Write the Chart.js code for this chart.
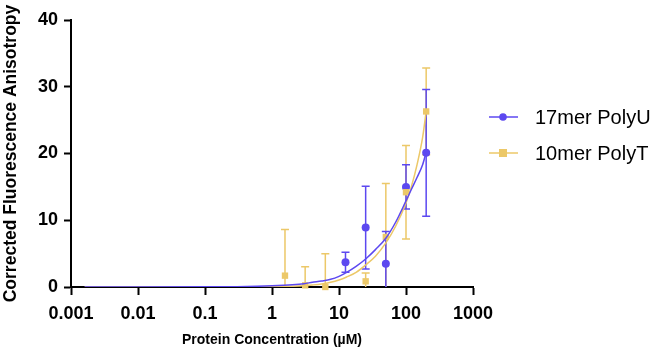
<!DOCTYPE html>
<html>
<head>
<meta charset="utf-8">
<script src="https://cdn.jsdelivr.net/npm/chart.js@4"></script>
<style>
  html, body { margin: 0; padding: 0; background: #fff; }
</style>
</head>
<body>
<canvas id="anisoChart" width="660" height="351"></canvas>
<script>
// measured points (mean +/- SD)
var concentrations = [1.5625, 3.125, 6.25, 12.5, 25, 50, 100, 200];
var polyUMean = [null, null, null, 3.7, 8.9, 3.5, 15.0, 20.1];
var polyUErr  = [null, null, null, 1.5, 6.2, 4.8, 3.3, 9.5];
var polyTMean = [1.7, 0.25, 0.0, null, 0.85, 7.5, 14.2, 26.3];
var polyTErr  = [6.9, 2.8, 5.0, null, 1.25, 8.0, 7.0, 6.5];

// fitted curves
var fitConc = [0.0016, 0.01, 0.1, 0.3, 0.6, 1, 1.5, 2, 3, 4, 5.5, 7.5, 10, 13, 18, 25, 35, 50, 70, 100, 120, 146, 177, 200];
var polyUFit = [0, 0, 0.02, 0.05, 0.1, 0.17, 0.25, 0.33, 0.5, 0.7, 0.9, 1.15, 1.6, 2.2, 3.1, 4.2, 5.6, 7.3, 9.7, 12.9, 14.6, 16.4, 18.3, 20.2];
var polyTFit = [0, 0, 0, 0.01, 0.02, 0.05, 0.08, 0.12, 0.2, 0.3, 0.45, 0.7, 1.05, 1.5, 2.2, 3.3, 4.6, 6.6, 9.1, 12.6, 15.0, 18.3, 22.4, 26.3];

var xTicks = [0.001, 0.01, 0.1, 1, 10, 100, 1000];
var xTickLabels = ['0.001', '0.01', '0.1', '1', '10', '100', '1000'];
var seriesNames = ['17mer PolyU', '10mer PolyT'];

var blue = 'rgb(92, 72, 240)';
var gold = 'rgb(236, 200, 104)';

function pairs(xs, ys) {
  var out = [];
  for (var i = 0; i < xs.length; i++) {
    if (ys[i] !== null) out.push({ x: xs[i], y: ys[i] });
  }
  return out;
}
function errs(ys, es) {
  return es.filter(function (e, i) { return ys[i] !== null; });
}

Chart.defaults.font.family = "'Liberation Sans', Arial, sans-serif";
Chart.defaults.color = '#000';

var errorBars = {
  id: 'errorBars',
  beforeDatasetsDraw: function (chart) {
    var ctx = chart.ctx, area = chart.chartArea;
    var x = chart.scales.x, y = chart.scales.y;
    ctx.save();
    ctx.beginPath();
    ctx.rect(area.left, area.top - 10, area.right - area.left, area.bottom - area.top + 10);
    ctx.clip();
    chart.data.datasets.forEach(function (ds) {
      if (!ds.errors) return;
      ctx.strokeStyle = ds.borderColor;
      ctx.lineWidth = 1.5;
      ds.data.forEach(function (p, j) {
        var e = ds.errors[j];
        var px = x.getPixelForValue(p.x);
        var top = y.getPixelForValue(p.y + e);
        var bot = y.getPixelForValue(p.y - e);
        ctx.beginPath();
        ctx.moveTo(px, top); ctx.lineTo(px, bot);
        ctx.moveTo(px - 4, top); ctx.lineTo(px + 4, top);
        ctx.moveTo(px - 4, bot); ctx.lineTo(px + 4, bot);
        ctx.stroke();
      });
    });
    ctx.restore();
  }
};

var sideLegend = {
  id: 'sideLegend',
  afterDraw: function (chart) {
    var ctx = chart.ctx, right = chart.chartArea.right;
    var rows = [
      { name: seriesNames[0], color: blue, shape: 'circle', y: 117 },
      { name: seriesNames[1], color: gold, shape: 'rect', y: 153 }
    ];
    ctx.save();
    rows.forEach(function (r) {
      ctx.strokeStyle = r.color;
      ctx.fillStyle = r.color;
      ctx.lineWidth = 1.5;
      ctx.beginPath();
      ctx.moveTo(right + 16, r.y);
      ctx.lineTo(right + 45, r.y);
      ctx.stroke();
      if (r.shape === 'circle') {
        ctx.beginPath();
        ctx.arc(right + 30, r.y, 3.8, 0, Math.PI * 2);
        ctx.fill();
      } else {
        ctx.fillRect(right + 26, r.y - 4, 8, 8);
      }
      ctx.fillStyle = '#000';
      ctx.font = "20px 'Liberation Sans', Arial, sans-serif";
      ctx.textBaseline = 'middle';
      ctx.fillText(r.name, right + 62, r.y + 1);
    });
    ctx.restore();
  }
};

var ctx = document.getElementById('anisoChart').getContext('2d');
var chart = new Chart(ctx, {
  type: 'line',
  data: {
    datasets: [
      {
        label: seriesNames[0] + ' fit',
        data: pairs(fitConc, polyUFit),
        borderColor: blue,
        borderWidth: 1.5,
        pointRadius: 0,
        cubicInterpolationMode: 'monotone',
        fill: false
      },
      {
        label: seriesNames[1] + ' fit',
        data: pairs(fitConc, polyTFit),
        borderColor: gold,
        borderWidth: 1.5,
        pointRadius: 0,
        cubicInterpolationMode: 'monotone',
        fill: false
      },
      {
        label: seriesNames[1],
        data: pairs(concentrations, polyTMean),
        errors: errs(polyTMean, polyTErr),
        borderColor: gold,
        backgroundColor: gold,
        showLine: false,
        pointStyle: 'rect',
        pointRadius: 4.5,
        pointBorderWidth: 0,
        clip: false
      },
      {
        label: seriesNames[0],
        data: pairs(concentrations, polyUMean),
        errors: errs(polyUMean, polyUErr),
        borderColor: blue,
        backgroundColor: blue,
        showLine: false,
        pointStyle: 'circle',
        pointRadius: 4,
        pointBorderWidth: 0,
        clip: false
      }
    ]
  },
  options: {
    responsive: false,
    animation: false,
    layout: { padding: { top: 20, right: 187, left: 0, bottom: 0 } },
    plugins: {
      legend: { display: false },
      tooltip: { enabled: false }
    },
    scales: {
      x: {
        type: 'logarithmic',
        min: 0.001,
        max: 1000,
        afterBuildTicks: function (s) {
          s.ticks = xTicks.map(function (v) { return { value: v }; });
        },
        afterFit: function (s) { s.height = 64; },
        ticks: {
          autoSkip: false,
          maxRotation: 0,
          padding: 8,
          font: { size: 18, weight: 'bold' },
          callback: function (v, i) { return xTickLabels[i]; }
        },
        grid: { drawOnChartArea: false, tickLength: 8, tickColor: '#000', tickWidth: 2 },
        border: { color: '#000', width: 2 },
        title: {
          display: true,
          text: 'Protein Concentration (µM)',
          font: { size: 14, weight: 'bold' },
          padding: { top: 0, bottom: 2 }
        }
      },
      y: {
        min: 0,
        max: 40,
        afterFit: function (s) { s.width = 71; },
        ticks: {
          stepSize: 10,
          padding: 6,
          font: { size: 18, weight: 'bold' }
        },
        grid: { drawOnChartArea: false, tickLength: 7, tickColor: '#000', tickWidth: 2 },
        border: { color: '#000', width: 2 },
        title: {
          display: true,
          text: 'Corrected Fluorescence Anisotropy',
          font: { size: 17.5, weight: 'bold' },
          padding: { top: 1, bottom: 0 }
        }
      }
    }
  },
  plugins: [errorBars, sideLegend]
});
</script>
</body>
</html>
